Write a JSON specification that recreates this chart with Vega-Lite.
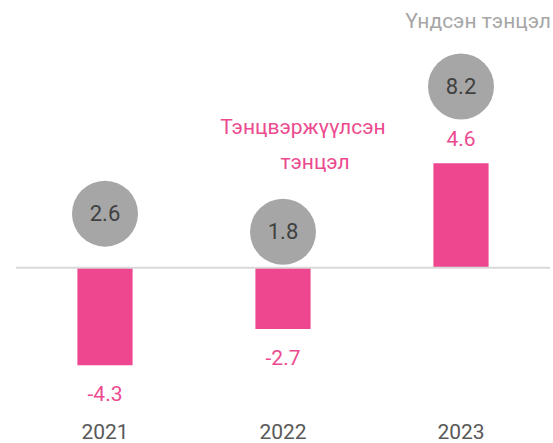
{
  "$schema": "https://vega.github.io/schema/vega-lite/v6.json",
  "width": 534,
  "height": 410,
  "autosize": "none",
  "padding": {"left": 16, "top": 0, "right": 3, "bottom": 33},
  "background": "white",
  "config": {"view": {"stroke": null}, "font": "Roboto"},
  "data": {"values": [
    {"year": "2021", "balanced": -4.3, "primary": 2.6},
    {"year": "2022", "balanced": -2.7, "primary": 1.8},
    {"year": "2023", "balanced": 4.6, "primary": 8.2}
  ]},
  "layer": [
    {"mark": {"type": "bar", "color": "#EF4690"},
     "encoding": {
       "x": {"field": "year", "type": "nominal", "title": null,
         "scale": {"paddingInner": 0.69, "paddingOuter": 0.345},
         "axis": {"domain": false, "ticks": false, "labelAngle": 0, "labelFont": "Roboto", "labelFontSize": 21, "labelColor": "#595959", "labelBaseline": "alphabetic", "labelPadding": 28}},
       "y": {"field": "balanced", "type": "quantitative", "title": null, "scale": {"domain": [-6.27, 11.79], "nice": false}, "axis": null}}},
    {"data": {"values": [{}]},
     "mark": {"type": "rule", "color": "#D9D9D9", "strokeWidth": 2},
     "encoding": {"y": {"datum": 0}}},
    {"transform": [{"filter": "datum.balanced < 0"}],
     "mark": {"type": "text", "color": "#EC4A8F", "fontSize": 21, "baseline": "alphabetic", "dy": 36},
     "encoding": {"x": {"field": "year", "type": "nominal"}, "y": {"field": "balanced", "type": "quantitative"}, "text": {"field": "balanced", "type": "nominal"}}},
    {"transform": [{"filter": "datum.balanced >= 0"}],
     "mark": {"type": "text", "color": "#EC4A8F", "fontSize": 21, "baseline": "alphabetic", "dy": -17},
     "encoding": {"x": {"field": "year", "type": "nominal"}, "y": {"field": "balanced", "type": "quantitative"}, "text": {"field": "balanced", "type": "nominal"}}},
    {"mark": {"type": "point", "filled": true, "color": "#A6A6A6", "opacity": 1, "size": 4356, "yOffset": 5},
     "encoding": {"x": {"field": "year", "type": "nominal"}, "y": {"field": "primary", "type": "quantitative"}}},
    {"mark": {"type": "text", "color": "#404040", "fontSize": 22, "baseline": "middle", "yOffset": 5},
     "encoding": {"x": {"field": "year", "type": "nominal"}, "y": {"field": "primary", "type": "quantitative"}, "text": {"field": "primary", "type": "quantitative", "format": ".1f"}}},
    {"data": {"values": [{}]},
     "mark": {"type": "text", "color": "#EC4A8F", "fontSize": 21, "baseline": "alphabetic", "align": "center", "dx": 20, "text": "Тэнцвэржүүлсэн"},
     "encoding": {"x": {"datum": "2022"}, "y": {"datum": 5.89}}},
    {"data": {"values": [{}]},
     "mark": {"type": "text", "color": "#EC4A8F", "fontSize": 21, "baseline": "alphabetic", "align": "center", "dx": 32, "text": "тэнцэл"},
     "encoding": {"x": {"datum": "2022"}, "y": {"datum": 4.35}}},
    {"data": {"values": [{}]},
     "mark": {"type": "text", "color": "#A6A6A6", "fontSize": 21, "baseline": "alphabetic", "align": "right", "dx": 90, "text": "Үндсэн тэнцэл"},
     "encoding": {"x": {"datum": "2023"}, "y": {"datum": 10.56}}}
  ]
}
